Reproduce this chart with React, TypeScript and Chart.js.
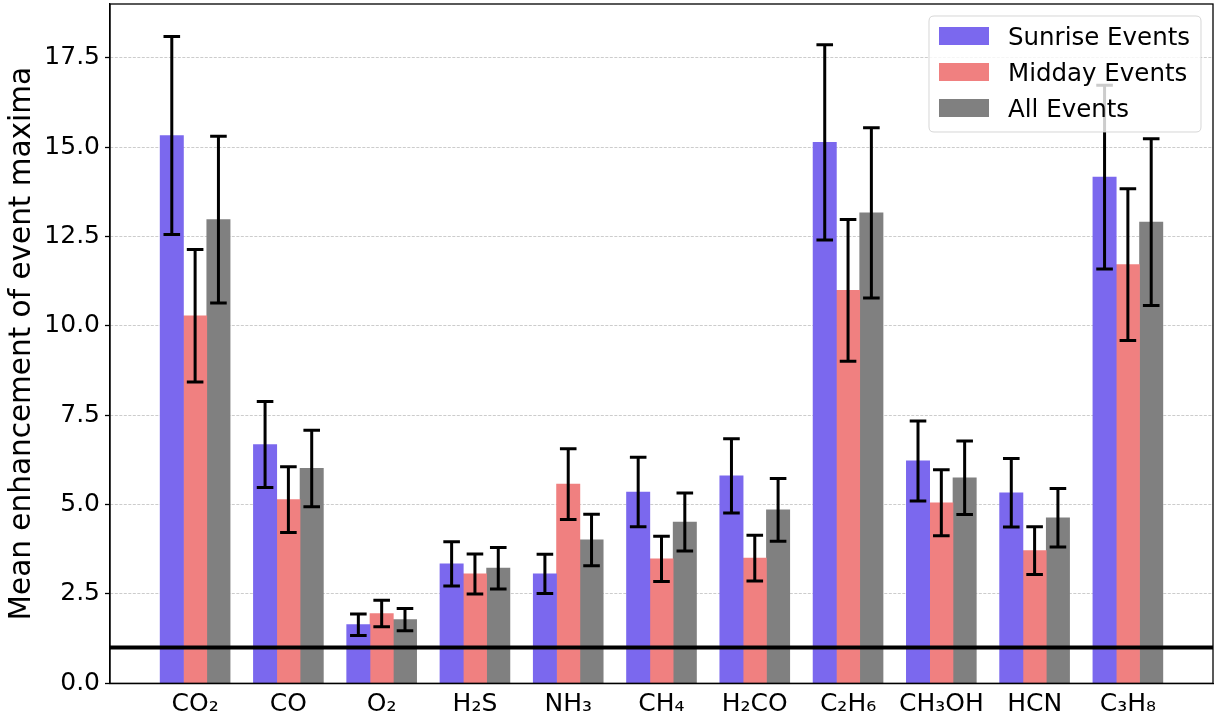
import React, { useEffect, useRef } from "react";
import { Chart, registerables } from "chart.js";

Chart.register(...registerables);

// ---------- data ----------
const categories = ["CO₂", "CO", "O₂", "H₂S", "NH₃", "CH₄", "H₂CO", "C₂H₆", "CH₃OH", "HCN", "C₃H₈"];
const seriesLabels = ["Sunrise Events", "Midday Events", "All Events"];
const seriesColors = ["#7B68EE", "#F08080", "#808080"];

const sunrise = [15.32, 6.68, 1.64, 3.34, 3.06, 5.35, 5.80, 15.13, 6.22, 5.33, 14.16];
const sunriseErr = [2.77, 1.20, 0.30, 0.62, 0.55, 0.97, 1.04, 2.73, 1.12, 0.96, 2.57];
const midday = [10.28, 5.14, 1.95, 3.06, 5.57, 3.48, 3.50, 10.99, 5.05, 3.71, 11.71];
const middayErr = [1.85, 0.92, 0.37, 0.56, 0.99, 0.63, 0.64, 1.98, 0.92, 0.67, 2.12];
const allEvents = [12.97, 6.01, 1.78, 3.22, 4.01, 4.51, 4.85, 13.16, 5.75, 4.63, 12.90];
const allErr = [2.33, 1.07, 0.31, 0.58, 0.72, 0.81, 0.88, 2.38, 1.03, 0.82, 2.33];

const yMin = 0;
const yMax = 19.0;
const yStep = 2.5;
const referenceLevel = 1;
const yTitle = "Mean enhancement of event maxima";

const FONT = '"DejaVu Sans", "Liberation Sans", sans-serif';

const seriesValues = [sunrise, midday, allEvents];
const seriesErrors = [sunriseErr, middayErr, allErr];
const barUnit = 0.25;

const errorBarPlugin = {
  id: "errorBars",
  afterDatasetsDraw(chart: any) {
    const { ctx, chartArea } = chart;
    const yScale = chart.scales.y;
    ctx.save();
    // reference line
    const yr = yScale.getPixelForValue(referenceLevel);
    ctx.strokeStyle = "#000";
    ctx.lineWidth = 4;
    ctx.beginPath();
    ctx.moveTo(chartArea.left, yr);
    ctx.lineTo(chartArea.right, yr);
    ctx.stroke();
    // error bars
    chart.data.datasets.forEach((ds: any, k: number) => {
      const meta = chart.getDatasetMeta(k);
      meta.data.forEach((el: any, i: number) => {
        const v = ds.data[i].y;
        const e = ds.errors[i];
        const x = el.x;
        const yt = yScale.getPixelForValue(v + e);
        const yb = yScale.getPixelForValue(v - e);
        ctx.lineWidth = 3;
        ctx.strokeStyle = "#000";
        ctx.beginPath();
        ctx.moveTo(x, yt);
        ctx.lineTo(x, yb);
        ctx.moveTo(x - 8.3, yt);
        ctx.lineTo(x + 8.3, yt);
        ctx.moveTo(x - 8.3, yb);
        ctx.lineTo(x + 8.3, yb);
        ctx.stroke();
      });
    });
    ctx.restore();
  },
  afterDraw(chart: any) {
    const { ctx, chartArea } = chart;
    ctx.save();
    // frame (top and right spines)
    ctx.strokeStyle = "#000";
    ctx.lineWidth = 1.3;
    ctx.strokeRect(chartArea.left, chartArea.top, chartArea.right - chartArea.left, chartArea.bottom - chartArea.top);

    // legend
    const fs = 24.5;
    const w = 272;
    const h = 116;
    const x0 = chartArea.right - 12 - w;
    const y0 = chartArea.top + 12;
    const r = 5;
    ctx.beginPath();
    ctx.moveTo(x0 + r, y0);
    ctx.lineTo(x0 + w - r, y0);
    ctx.quadraticCurveTo(x0 + w, y0, x0 + w, y0 + r);
    ctx.lineTo(x0 + w, y0 + h - r);
    ctx.quadraticCurveTo(x0 + w, y0 + h, x0 + w - r, y0 + h);
    ctx.lineTo(x0 + r, y0 + h);
    ctx.quadraticCurveTo(x0, y0 + h, x0, y0 + h - r);
    ctx.lineTo(x0, y0 + r);
    ctx.quadraticCurveTo(x0, y0, x0 + r, y0);
    ctx.closePath();
    ctx.fillStyle = "rgba(255,255,255,0.8)";
    ctx.fill();
    ctx.strokeStyle = "rgba(204,204,204,0.8)";
    ctx.lineWidth = 1;
    ctx.stroke();
    ctx.font = `${fs}px ${FONT}`;
    ctx.textAlign = "left";
    ctx.textBaseline = "alphabetic";
    chart.data.datasets.forEach((ds: any, k: number) => {
      const cy = y0 + 20 + 36 * k;
      ctx.fillStyle = ds.backgroundColor;
      ctx.fillRect(x0 + 10, cy - 9, 50, 18);
      ctx.fillStyle = "#000";
      ctx.fillText(ds.label, x0 + 79, cy + 0.365 * fs);
    });
    ctx.restore();
  },
};

export default function App() {
  const ref = useRef<HTMLCanvasElement | null>(null);

  useEffect(() => {
    if (!ref.current) return;
    const datasets = seriesLabels.map((label, k) => ({
      label,
      data: seriesValues[k].map((v, i) => ({ x: i + (k - 1) * barUnit, y: v })),
      errors: seriesErrors[k],
      backgroundColor: seriesColors[k],
      borderWidth: 0,
      grouped: false,
      barPercentage: 1,
      categoryPercentage: 1,
    }));
    const nCat = categories.length;
    const span = nCat - 1 + 3 * barUnit;
    const margin = span * 0.05;
    const chart = new Chart(ref.current, {
      type: "bar",
      data: { datasets } as any,
      options: {
        animation: false,
        responsive: false,
        events: [],
        layout: { padding: { left: 0, top: 4, right: 8, bottom: 0 } },
        plugins: { legend: { display: false }, tooltip: { enabled: false } },
        scales: {
          x: {
            type: "linear",
            offset: false,
            min: -1.5 * barUnit - margin,
            max: nCat - 1 + 1.5 * barUnit + margin,
            grid: { display: false, offset: false, drawTicks: false },
            border: { display: true, color: "#000", width: 1.3 },
            ticks: {
              stepSize: 1,
              includeBounds: false,
              autoSkip: false,
              maxRotation: 0,
              padding: 6,
              color: "#000",
              font: { family: FONT, size: 25 },
              callback: (value: any) => {
                const v = Number(value);
                if (Math.abs(v - Math.round(v)) > 1e-6) return null;
                return categories[Math.round(v)] ?? null;
              },
            },
            afterFit: (scale: any) => {
              scale.height = 37.7;
              scale.paddingLeft = 0;
              scale.paddingRight = 0;
              scale.paddingTop = 0;
              scale.paddingBottom = 0;
            },
          } as any,
          y: {
            type: "linear",
            min: yMin,
            max: yMax,
            grid: {
              display: true,
              color: "rgba(170,170,170,0.75)",
              lineWidth: 0.8,
              drawTicks: true,
              tickLength: 5,
              tickColor: "#000",
              tickWidth: 1.3,
            },
            border: { display: true, color: "#000", width: 1.3, dash: [3, 1.5] },
            ticks: {
              stepSize: yStep,
              includeBounds: false,
              padding: 5,
              color: "#000",
              font: { family: FONT, size: 25 },
              callback: (value: any) => Number(value).toFixed(1),
            },
            title: {
              display: true,
              text: yTitle,
              color: "#000",
              font: { family: FONT, size: 29.5 },
              padding: { top: 5, bottom: 0 },
            },
            afterFit: (scale: any) => {
              scale.width = 110;
              scale.paddingLeft = 0;
              scale.paddingRight = 0;
              scale.paddingTop = 0;
              scale.paddingBottom = 0;
            },
          } as any,
        },
      } as any,
      plugins: [errorBarPlugin],
    });
    return () => chart.destroy();
  }, []);

  return (
    <div style={{ position: "absolute", left: 0, top: 0, width: 1221, height: 721, overflow: "hidden", background: "#fff" }}>
      <canvas ref={ref} width={1221} height={721} style={{ display: "block" }} />
    </div>
  );
}
